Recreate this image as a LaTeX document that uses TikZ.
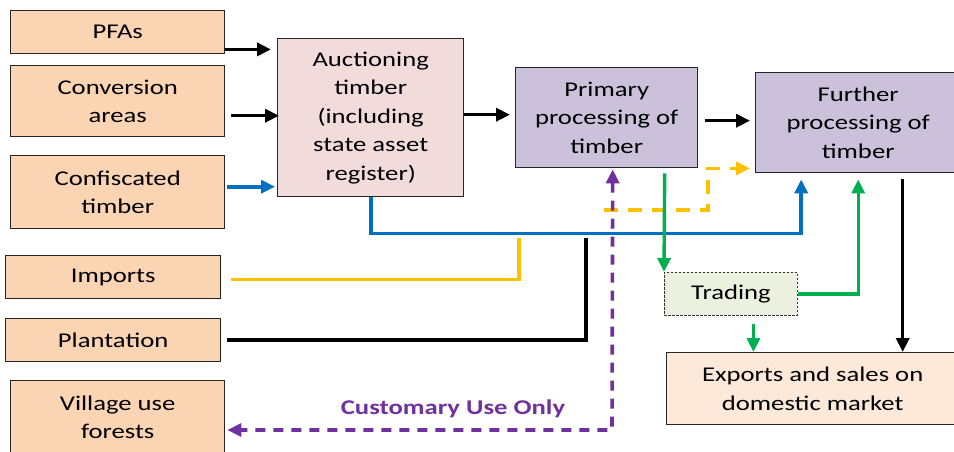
\documentclass[tikz,border=0pt]{standalone}
\usepackage{fontspec}
\setmainfont{Carlito}[FakeStretch=1.27]
\usetikzlibrary{arrows.meta}
\definecolor{peach}{HTML}{FBD4B4}
\definecolor{pinkbox}{HTML}{F2DCDB}
\definecolor{lilac}{HTML}{CCC1DA}
\definecolor{palegreen}{HTML}{EBF1DE}
\definecolor{lightpeach}{HTML}{FDE9D9}
\definecolor{cblue}{HTML}{0070C0}
\definecolor{cyellow}{HTML}{FFC000}
\definecolor{cgreen}{HTML}{00B050}
\definecolor{cpurple}{HTML}{7030A0}
\begin{document}
\begin{tikzpicture}[x=1pt,y=-1pt,
  box/.style={draw=black!85, line width=1.4pt, inner sep=0pt, align=center,
    anchor=north west, font=\fontsize{21}{28.5}\selectfont},
  src/.style={box, fill=peach},
  tip/.style={-{Triangle[length=14pt,width=13pt]}},
  blk/.style={draw=black, line width=3.5pt, tip},
  blu/.style={draw=cblue, line width=3.6pt, tip},
  yel/.style={draw=cyellow, line width=3.4pt},
  grn/.style={draw=cgreen, line width=3.4pt, tip},
  pur/.style={draw=cpurple, line width=3.6pt, dash pattern=on 10pt off 8pt,
    {Triangle[length=14pt,width=13pt]}-{Triangle[length=14pt,width=13pt]}}
]
\useasboundingbox (0,0) rectangle (954,451);
% sources
\node[src, minimum width=214pt, minimum height=43pt] (pfa) at (10,10) {PFAs};
\node[src, minimum width=214pt, minimum height=71pt] (conv) at (10,65) {Conversion\\areas};
\node[src, minimum width=214pt, minimum height=73pt] (conf) at (10,155) {Confiscated\\timber};
\node[src, minimum width=215pt, minimum height=43pt] (imp) at (5,255) {Imports};
\node[src, minimum width=215pt, minimum height=43pt] (plant) at (5,318) {Plantation};
\node[src, minimum width=214pt, minimum height=73pt] (vil) at (10,380) {Village use\\forests};
% process boxes
\node[box, fill=pinkbox, minimum width=186pt, minimum height=158pt] (auc) at (277,38)
  {Auctioning\\timber\\(including\\state asset\\register)};
\node[box, fill=lilac, minimum width=182pt, minimum height=100pt] (prim) at (515,67)
  {Primary\\processing of\\timber};
\node[box, fill=lilac, minimum width=205pt, minimum height=100pt] (fur) at (755,72)
  {Further\\processing of\\timber};
\node[box, fill=palegreen, draw=black!80, line width=0.9pt, dash pattern=on 2.5pt off 1.5pt,
  minimum width=133pt, minimum height=43pt] (trad) at (664,272) {Trading};
\node[box, fill=lightpeach, minimum width=292pt, minimum height=72pt] (exp) at (666,352)
  {Exports and sales on\\domestic market};
% coordinates for free ends
\coordinate (yend) at (519,238);
\coordinate (pend) at (586,238);
\coordinate (ys) at (604,210);
\coordinate (yc) at (708,210);
\coordinate (pc) at (612,430);
% arrows into auctioning
\draw[blk, shorten >=6pt] ([yshift=5pt]pfa.south east) -- ([yshift=5pt]pfa.south east -| auc.west);
\draw[blk, shorten >=4pt] ([shift={(6pt,-14.5pt)}]conv.east) -- ([shift={(6pt,-14.5pt)}]conv.east -| auc.west);
\draw[blu, shorten >=4pt] ([shift={(2pt,5.5pt)}]conf.east) -- ([shift={(2pt,5.5pt)}]conf.east -| auc.west);
% main chain
\draw[blk, shorten >=5pt] ([yshift=3pt]auc.east) -- ([yshift=3pt]auc.east -| prim.west);
\draw[blk, shorten <=7pt, shorten >=5pt] ([yshift=-3pt]prim.east) -- ([yshift=-3pt]prim.east -| fur.west);
% blue bypass
\draw[blu, shorten >=6pt] (auc.south) -- ++(0,36) -| ([xshift=-57pt]fur.south);
% imports and plantation
\draw[yel] ([shift={(10pt,-2.5pt)}]imp.east) -| (yend);
\draw[draw=black, line width=3.5pt] ([xshift=6pt]plant.east) -| (pend);
% yellow dashed
\draw[yel, dash pattern=on 14pt off 10pt, tip, shorten >=5pt] (ys) -- (yc) |- ([yshift=5pt]fur.south west);
% purple dashed customary use
\draw[pur, shorten <=1pt, shorten >=2pt] ([xshift=6pt]prim.south) -- (pc) -- (pc -| vil.east);
\node[text=cpurple, font=\fontsize{21}{24}\selectfont\bfseries] (cust) at (453,409) {Customary Use Only};
% green
\draw[grn] ([shift={(58pt,-5pt)}]prim.south) -- (trad.north west);
\draw[grn, shorten >=6pt] (trad.east) -| (fur.south);
\draw[grn] ([shift={(22.5pt,-8pt)}]trad.south) -- ([xshift=22.5pt]trad.south |- exp.north);
% black to exports
\draw[blk] ([shift={(44.5pt,-6pt)}]fur.south) -- ([xshift=44.5pt]fur.south |- exp.north);
\end{tikzpicture}
\end{document}
